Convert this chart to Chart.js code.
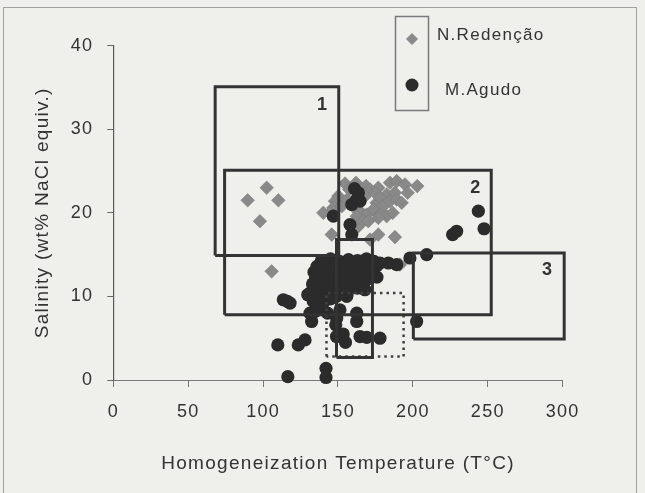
<!DOCTYPE html>
<html>
<head>
<meta charset="utf-8">
<script src="https://cdn.jsdelivr.net/npm/chart.js@4/dist/chart.umd.min.js"></script>
<style>
  html, body { margin: 0; padding: 0; background: #efefec; }
  #wrap { position: relative; width: 645px; height: 493px; overflow: hidden; }
  #frame { position: absolute; left: 3px; top: 7px; width: 634px; height: 500px; border: 1px solid #a0a0a0; box-sizing: border-box; }
  canvas { position: absolute; left: 0; top: 0; }
</style>
</head>
<body>
<div id="wrap">
  <div id="frame"></div>
  <canvas id="grafico" width="645" height="493"></canvas>
</div>
<script>
// ===== Dados =====
const xTicks = [0, 50, 100, 150, 200, 250, 300];
const yTicks = [0, 10, 20, 30, 40];

// N.Redenção (losangos cinza)
const redX = [89.7, 102.4, 110.2, 97.9, 105.7,
  154.7, 157.5, 162.0, 168.7, 171.4, 176.9, 184.7, 189.2, 194.7, 202.9,
  150.2, 148.0, 164.7, 168.0, 174.7, 182.5, 188.0,
  146.9, 144.7, 140.2, 175.8, 178.0, 180.2, 184.7, 189.2, 192.5,
  164.7, 169.2, 173.6, 178.0, 182.5, 162.5, 166.9, 170.2, 176.9,
  145.8, 162.5, 171.4, 176.9, 188.0, 191.4, 152.5, 156.0, 160.0, 186.5, 196.5];
const redY = [21.5, 23.0, 21.5, 19.0, 13.0,
  23.5, 22.8, 23.6, 23.2, 22.8, 23.0, 23.6, 23.8, 23.4, 23.2,
  22.0, 21.4, 22.4, 22.0, 22.4, 22.2, 22.4,
  20.6, 20.0, 20.0, 21.2, 21.8, 20.8, 21.4, 21.6, 21.2,
  20.2, 19.8, 20.4, 19.8, 19.6, 19.6, 19.0, 19.0, 19.4,
  17.4, 18.2, 16.8, 17.4, 17.1, 13.8, 20.8, 21.6, 20.8, 20.0, 22.4];

// M.Agudo (círculos pretos)
const agudoX = [161.0, 163.6, 162.5, 164.7, 159.2, 146.9, 158.0, 159.2,
  243.7, 229.2, 226.5, 247.5,
  198.0, 209.2, 178.0, 183.6, 189.2,
  113.5, 116.2, 118.0, 131.3, 135.8, 140.2, 132.4, 131.3,
  109.8, 123.5, 128.0, 116.5, 142.0, 142.0,
  149.1, 162.5, 162.5, 148.5, 153.5, 155.0, 149.0, 164.7, 169.2, 178.0, 151.3, 202.5, 155.8,
  139, 145, 151, 157, 163, 169, 174,
  136, 141, 147, 153, 159, 165, 171, 176,
  134, 139, 144, 150, 156, 162, 168, 173,
  135, 141, 146, 152, 158, 164, 170, 176,
  133, 138, 144, 149, 155, 160, 166,
  134, 140, 146, 152, 157, 163, 168,
  137, 143, 149, 156,
  129.8, 133.5, 137.5, 134.5, 140, 145, 143];
const agudoY = [22.9, 22.4, 21.6, 21.4, 21.0, 19.6, 18.6, 17.4,
  20.2, 17.8, 17.4, 18.1,
  14.6, 15.0, 14.0, 14.0, 13.8,
  9.6, 9.4, 9.2, 10.4, 9.2, 10.0, 7.0, 8.0,
  4.2, 4.2, 4.8, 0.4, 1.4, 0.3,
  7.4, 8.0, 7.0, 6.6, 5.5, 4.5, 5.2, 5.2, 5.1, 5.0, 8.4, 7.0, 10.0,
  14.3, 14.5, 14.2, 14.4, 14.3, 14.5, 14.2,
  13.6, 13.8, 13.5, 13.7, 13.6, 13.8, 13.5, 13.7,
  12.9, 13.1, 12.8, 13.0, 12.9, 13.1, 12.8, 13.0,
  12.2, 12.4, 12.1, 12.3, 12.2, 12.4, 12.1, 12.3,
  11.5, 11.7, 11.4, 11.6, 11.5, 11.7, 11.4,
  10.8, 11.0, 10.7, 10.9, 10.8, 11.0, 10.8,
  10.1, 10.3, 10.0, 10.2,
  10.2, 9.4, 8.6, 8.2, 9.2, 9.7, 8.0];

// Caixas (campos 1, 2, 3, caixa central e caixa pontilhada)
const boxX1 = [68.0, 74.3, 200.3, 149.0, 142.3];
const boxX2 = [150.5, 252.3, 301.0, 173.0, 193.8];
const boxY1 = [14.9, 7.8, 4.9, 2.7, 2.8];
const boxY2 = [35.1, 25.1, 15.2, 16.8, 10.4];
const boxDotted = [false, false, false, false, true];

const boxLabels = ["1", "2", "3"];
const boxLabelX = [139.8, 242.0, 290.0];
const boxLabelY = [32.9, 23.0, 13.1];

const FONT = '"Liberation Sans", Arial, sans-serif';
const TXT = '#333';

// ===== Datasets =====
const toPoints = (xs, ys) => xs.map((x, i) => ({ x: x, y: ys[i] }));

const boxDatasets = boxX1.map((x1, i) => ({
  label: 'box' + i,
  data: [
    { x: x1, y: boxY1[i] }, { x: x1, y: boxY2[i] },
    { x: boxX2[i], y: boxY2[i] }, { x: boxX2[i], y: boxY1[i] },
    { x: x1, y: boxY1[i] }
  ],
  showLine: true,
  fill: false,
  pointRadius: 0,
  borderColor: boxDotted[i] ? '#404040' : '#333333',
  borderWidth: boxDotted[i] ? 2.5 : 3,
  borderDash: boxDotted[i] ? [2.5, 4] : [],
  borderJoinStyle: 'miter',
  tension: 0,
  order: 0
}));

// ===== Plugins =====
const espacamento = {
  id: 'espacamento',
  beforeDraw(chart) { chart.ctx.letterSpacing = '1.3px'; }
};

const rotulosCaixas = {
  id: 'rotulosCaixas',
  afterDatasetsDraw(chart) {
    const ctx = chart.ctx;
    const sx = chart.scales.x, sy = chart.scales.y;
    ctx.save();
    ctx.fillStyle = TXT;
    ctx.font = 'bold 18px ' + FONT;
    ctx.textAlign = 'center';
    ctx.textBaseline = 'middle';
    boxLabels.forEach((t, i) => {
      ctx.fillText(t, sx.getPixelForValue(boxLabelX[i]), sy.getPixelForValue(boxLabelY[i]));
    });
    ctx.restore();
  }
};

const legenda = {
  id: 'legenda',
  afterDraw(chart) {
    const ctx = chart.ctx;
    ctx.save();
    ctx.strokeStyle = '#7a7a7a';
    ctx.lineWidth = 1.5;
    ctx.strokeRect(395.5, 16.5, 33, 94);
    // losango
    ctx.fillStyle = '#8a8a8a';
    ctx.beginPath();
    ctx.moveTo(412, 33); ctx.lineTo(418, 39); ctx.lineTo(412, 45); ctx.lineTo(406, 39);
    ctx.closePath();
    ctx.fill();
    // círculo
    ctx.fillStyle = '#2b2b2b';
    ctx.beginPath();
    ctx.arc(412, 85, 6.5, 0, Math.PI * 2);
    ctx.fill();
    ctx.fillStyle = TXT;
    ctx.font = '17px ' + FONT;
    ctx.textBaseline = 'middle';
    ctx.fillText('N.Redenção', 437, 35);
    ctx.fillText('M.Agudo', 445, 90);
    ctx.restore();
  }
};

// ===== Gráfico =====
new Chart(document.getElementById('grafico'), {
  type: 'scatter',
  data: {
    datasets: [
      ...boxDatasets,
      {
        label: 'M.Agudo',
        data: toPoints(agudoX, agudoY),
        pointStyle: 'circle',
        pointRadius: 6.6,
        backgroundColor: '#2b2b2b',
        borderColor: '#2b2b2b',
        borderWidth: 0,
        order: 1
      },
      {
        label: 'N.Redenção',
        data: toPoints(redX, redY),
        pointStyle: 'rectRot',
        pointRadius: 6.8,
        backgroundColor: '#898989',
        borderColor: '#777777',
        borderWidth: 0.5,
        order: 2
      }
    ]
  },
  options: {
    responsive: false,
    animation: false,
    clip: false,
    layout: { padding: { left: 0, right: 82.3, top: 45.7, bottom: 0 } },
    plugins: { legend: { display: false }, tooltip: { enabled: false } },
    elements: { point: { hoverRadius: 6.6 } },
    scales: {
      x: {
        type: 'linear',
        min: 0, max: 300,
        afterBuildTicks: s => { s.ticks = xTicks.map(v => ({ value: v })); },
        afterFit: s => { s.height = 113; },
        grid: { display: true, drawOnChartArea: false, tickLength: 7, color: '#777', lineWidth: 1 },
        border: { display: true, color: '#7a7a7a', width: 1 },
        ticks: { color: TXT, font: { family: FONT, size: 18 }, padding: 14, maxRotation: 0 },
        title: {
          display: true,
          text: 'Homogeneization Temperature (T°C)',
          color: TXT,
          font: { family: FONT, size: 19 },
          padding: { top: 0, bottom: 18 }
        }
      },
      y: {
        type: 'linear',
        min: 0, max: 40,
        afterBuildTicks: s => { s.ticks = yTicks.map(v => ({ value: v })); },
        afterFit: s => { s.width = 113.3; },
        grid: { display: true, drawOnChartArea: false, tickLength: 6, color: '#666', lineWidth: 1 },
        border: { display: true, color: '#5a5a5a', width: 1.2 },
        ticks: { color: TXT, font: { family: FONT, size: 18 }, padding: 14 },
        title: {
          display: true,
          text: 'Salinity (wt% NaCl equiv.)',
          color: TXT,
          font: { family: FONT, size: 19 },
          padding: { top: 31, bottom: 0 }
        }
      }
    }
  },
  plugins: [espacamento, rotulosCaixas, legenda]
});
</script>
</body>
</html>
